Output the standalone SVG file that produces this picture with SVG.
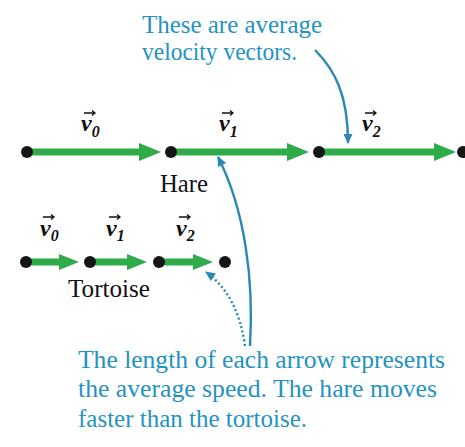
<svg xmlns="http://www.w3.org/2000/svg" width="465" height="447" viewBox="0 0 465 447">
<style>
.note{font-family:"Liberation Serif","Times New Roman",serif;font-size:25px;fill:#1f93c2}
.lbl{font-family:"Liberation Serif","Times New Roman",serif;font-size:25px;fill:#111}
.vec{font-family:"Liberation Serif","Times New Roman",serif;font-size:24px;font-weight:bold;font-style:italic;fill:#111}
.sub{font-size:16px}
.dot{fill:#151515}
.g{stroke:#2fab4a;stroke-width:7;fill:none}
.va{stroke:#111;stroke-width:1.3;fill:none}
.cb{stroke:#2a88b2;stroke-width:2.4;fill:none}
.cd{stroke:#2a88b2;stroke-width:2.4;fill:none;stroke-dasharray:2 2.5}
</style>
<defs>
<marker id="hh" markerUnits="userSpaceOnUse" markerWidth="22" markerHeight="18" refX="1" refY="9" orient="auto" overflow="visible">
<path d="M0,0 L22,9 L0,18 z" fill="#2fab4a"/>
</marker>
<marker id="th" markerUnits="userSpaceOnUse" markerWidth="20" markerHeight="16" refX="1" refY="8" orient="auto" overflow="visible">
<path d="M0,0 L20,8 L0,16 z" fill="#2fab4a"/>
</marker>
<marker id="bh" markerUnits="userSpaceOnUse" markerWidth="10" markerHeight="9" refX="9" refY="4.5" orient="auto" overflow="visible">
<path d="M0,0 L10,4.5 L0,9 z" fill="#2a88b2"/>
</marker>
</defs>

<g id="connectors">
<line class="g" x1="27" y1="152" x2="140" y2="152" marker-end="url(#hh)"/>
<line class="g" x1="171" y1="152" x2="288" y2="152" marker-end="url(#hh)"/>
<line class="g" x1="319" y1="152" x2="435" y2="152" marker-end="url(#hh)"/>
<line class="g" x1="26" y1="262" x2="60" y2="262" marker-end="url(#th)"/>
<line class="g" x1="90" y1="262" x2="128" y2="262" marker-end="url(#th)"/>
<line class="g" x1="159" y1="262" x2="194" y2="262" marker-end="url(#th)"/>
<path class="cb" d="M315,50 C335,70 348,95 348,143" marker-end="url(#bh)"/>
<path class="cb" d="M250,346 C254,280 245,210 218,157" marker-end="url(#bh)"/>
<path class="cd" d="M245,346 Q238,295 206,272" marker-end="url(#bh)"/>
</g>

<g id="hare-p0"><circle class="dot" cx="27" cy="152" r="6"/></g>
<g id="hare-p1"><circle class="dot" cx="171" cy="152" r="6"/></g>
<g id="hare-p2"><circle class="dot" cx="319" cy="152" r="6"/></g>
<g id="hare-p3"><circle class="dot" cx="463" cy="152" r="6"/></g>

<g id="tortoise-p0"><circle class="dot" cx="26" cy="262" r="6"/></g>
<g id="tortoise-p1"><circle class="dot" cx="90" cy="262" r="6"/></g>
<g id="tortoise-p2"><circle class="dot" cx="159" cy="262" r="6"/></g>
<g id="tortoise-p3"><circle class="dot" cx="225" cy="262" r="6"/></g>

<g id="hare-v0">
<path class="va" d="M84,113 H95 M92,110.5 L95,113 L92,115.5"/>
<text class="vec" x="81" y="131">v<tspan class="sub" dy="6">0</tspan></text>
</g>
<g id="hare-v1">
<path class="va" d="M222,113 H233 M230,110.5 L233,113 L230,115.5"/>
<text class="vec" x="219" y="131">v<tspan class="sub" dy="6">1</tspan></text>
</g>
<g id="hare-v2">
<path class="va" d="M365,113 H376 M373,110.5 L376,113 L373,115.5"/>
<text class="vec" x="362" y="131">v<tspan class="sub" dy="6">2</tspan></text>
</g>

<g id="tortoise-v0">
<path class="va" d="M43,217 H54 M51,214.5 L54,217 L51,219.5"/>
<text class="vec" x="40" y="236">v<tspan class="sub" dy="5">0</tspan></text>
</g>
<g id="tortoise-v1">
<path class="va" d="M109,217 H120 M117,214.5 L120,217 L117,219.5"/>
<text class="vec" x="106" y="236">v<tspan class="sub" dy="5">1</tspan></text>
</g>
<g id="tortoise-v2">
<path class="va" d="M179,217 H190 M187,214.5 L190,217 L187,219.5"/>
<text class="vec" x="176" y="236">v<tspan class="sub" dy="5">2</tspan></text>
</g>

<g id="hare-label"><text class="lbl" x="160" y="192" textLength="48" lengthAdjust="spacingAndGlyphs">Hare</text></g>
<g id="tortoise-label"><text class="lbl" x="68" y="297" textLength="82" lengthAdjust="spacingAndGlyphs">Tortoise</text></g>

<g id="note-top">
<text class="note" x="142" y="33" textLength="180" lengthAdjust="spacingAndGlyphs">These are average</text>
<text class="note" x="142" y="60" textLength="155" lengthAdjust="spacingAndGlyphs">velocity vectors.</text>
</g>

<g id="note-bottom">
<text class="note" x="78" y="368" textLength="367" lengthAdjust="spacingAndGlyphs">The length of each arrow represents</text>
<text class="note" x="78" y="397" textLength="359" lengthAdjust="spacingAndGlyphs">the average speed. The hare moves</text>
<text class="note" x="78" y="427" textLength="229" lengthAdjust="spacingAndGlyphs">faster than the tortoise.</text>
</g>
</svg>
